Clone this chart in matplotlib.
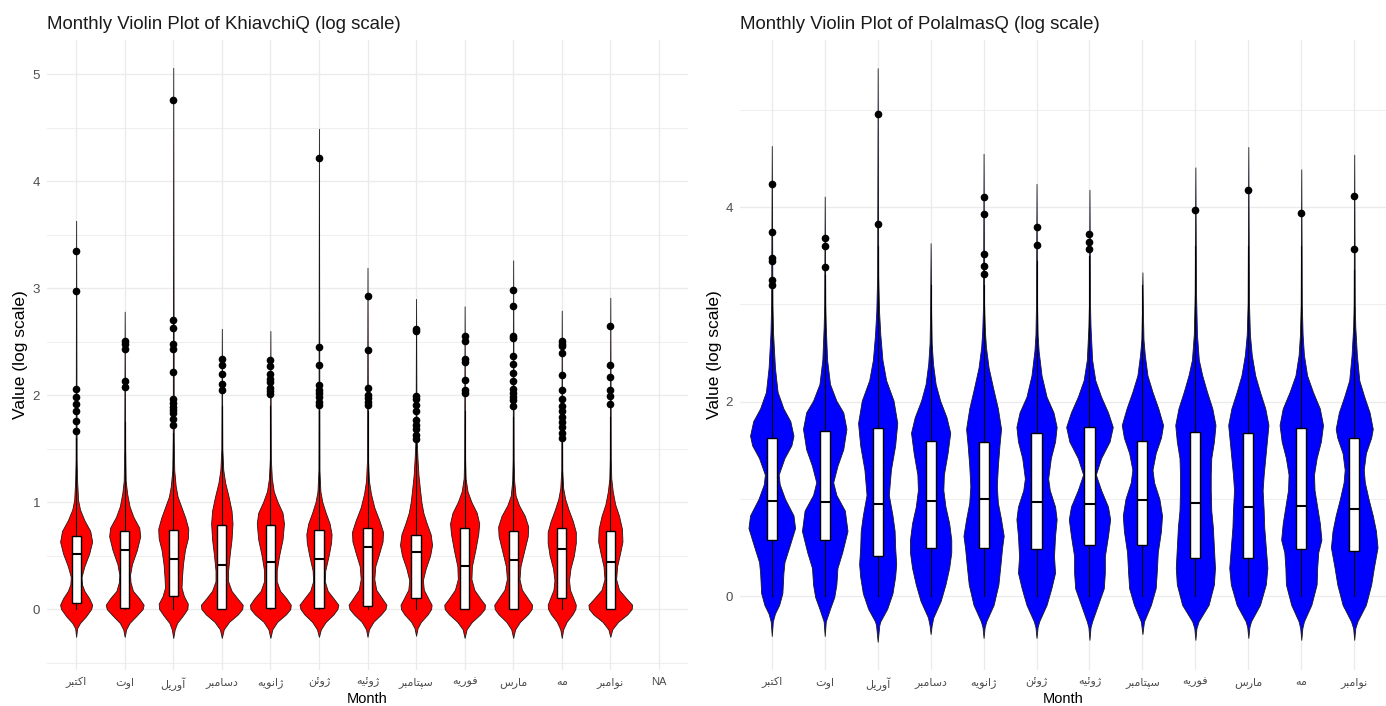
import matplotlib
matplotlib.use("Agg")
import matplotlib.pyplot as plt
from matplotlib.ticker import MultipleLocator

plt.rcParams['font.family'] = ['Liberation Sans', 'DejaVu Sans']

# month labels as they come out of R (alphabetical factor order)
months = ['اکتبر', 'اوت', 'آوریل', 'دسامبر', 'ژانویه', 'ژوئن', 'ژوئیه',
          'سپتامبر', 'فوریه', 'مارس', 'مه', 'نوامبر']

# ---- KhiavchiQ : violin outlines, (value, half width)
khiav_profiles = [
    [(-0.26, 0), (-0.18, 0.02), (-0.13, 0.08), (-0.07, 0.2), (0.0, 0.31), (0.04, 0.33), (0.1, 0.27),
     (0.17, 0.17), (0.23, 0.12), (0.3, 0.11), (0.4, 0.17), (0.52, 0.27), (0.63, 0.33), (0.73, 0.29),
     (0.83, 0.17), (0.93, 0.08), (1.02, 0.04), (1.2, 0.02), (1.4, 0.01), (3.63, 0)],
    [(-0.26, 0), (-0.19, 0.03), (-0.13, 0.1), (-0.06, 0.25), (0.0, 0.37), (0.04, 0.39), (0.1, 0.3),
     (0.17, 0.17), (0.25, 0.12), (0.32, 0.11), (0.42, 0.15), (0.55, 0.25), (0.68, 0.32), (0.76, 0.3),
     (0.86, 0.18), (0.96, 0.1), (1.08, 0.05), (1.2, 0.02), (1.5, 0.01), (2.78, 0)],
    [(-0.27, 0), (-0.19, 0.03), (-0.13, 0.08), (-0.06, 0.2), (0.0, 0.29), (0.05, 0.3), (0.12, 0.22),
     (0.2, 0.17), (0.3, 0.18), (0.42, 0.2), (0.55, 0.24), (0.66, 0.3), (0.75, 0.31), (0.85, 0.25),
     (0.95, 0.17), (1.05, 0.09), (1.15, 0.05), (1.3, 0.02), (1.6, 0.01), (5.06, 0)],
    [(-0.27, 0), (-0.19, 0.04), (-0.12, 0.15), (-0.05, 0.33), (0.0, 0.42), (0.04, 0.43), (0.1, 0.32),
     (0.17, 0.2), (0.26, 0.13), (0.36, 0.13), (0.5, 0.16), (0.65, 0.2), (0.8, 0.22), (0.92, 0.2),
     (1.05, 0.14), (1.18, 0.07), (1.3, 0.03), (1.5, 0.01), (2.62, 0)],
    [(-0.27, 0), (-0.19, 0.04), (-0.12, 0.14), (-0.05, 0.32), (0.0, 0.41), (0.04, 0.42), (0.1, 0.33),
     (0.17, 0.2), (0.26, 0.13), (0.36, 0.13), (0.5, 0.18), (0.65, 0.25), (0.8, 0.28), (0.9, 0.25),
     (1.0, 0.15), (1.1, 0.07), (1.22, 0.03), (1.4, 0.01), (2.6, 0)],
    [(-0.26, 0), (-0.19, 0.04), (-0.12, 0.14), (-0.05, 0.3), (0.0, 0.38), (0.04, 0.4), (0.1, 0.3),
     (0.17, 0.18), (0.26, 0.12), (0.36, 0.13), (0.5, 0.2), (0.62, 0.25), (0.7, 0.26), (0.8, 0.22),
     (0.9, 0.14), (1.0, 0.07), (1.1, 0.03), (1.3, 0.01), (4.49, 0)],
    [(-0.26, 0), (-0.19, 0.03), (-0.12, 0.12), (-0.05, 0.28), (0.0, 0.37), (0.04, 0.39), (0.1, 0.3),
     (0.18, 0.18), (0.28, 0.14), (0.4, 0.16), (0.52, 0.24), (0.63, 0.31), (0.72, 0.32), (0.82, 0.25),
     (0.95, 0.14), (1.08, 0.07), (1.2, 0.03), (1.4, 0.01), (3.19, 0)],
    [(-0.25, 0), (-0.18, 0.03), (-0.12, 0.1), (-0.05, 0.24), (0.0, 0.31), (0.04, 0.32), (0.1, 0.25),
     (0.18, 0.16), (0.27, 0.14), (0.38, 0.2), (0.5, 0.29), (0.6, 0.33), (0.7, 0.3), (0.8, 0.22),
     (0.9, 0.15), (1.0, 0.11), (1.12, 0.08), (1.25, 0.05), (1.4, 0.03), (1.6, 0.01), (2.9, 0)],
    [(-0.27, 0), (-0.19, 0.04), (-0.12, 0.15), (-0.05, 0.32), (0.0, 0.41), (0.04, 0.42), (0.1, 0.32),
     (0.18, 0.2), (0.28, 0.14), (0.4, 0.15), (0.55, 0.22), (0.7, 0.28), (0.8, 0.3), (0.9, 0.25),
     (1.0, 0.14), (1.1, 0.06), (1.22, 0.02), (1.4, 0.01), (2.83, 0)],
    [(-0.27, 0), (-0.19, 0.04), (-0.12, 0.14), (-0.05, 0.3), (0.0, 0.38), (0.04, 0.39), (0.1, 0.3),
     (0.18, 0.18), (0.28, 0.13), (0.4, 0.15), (0.55, 0.23), (0.68, 0.3), (0.77, 0.31), (0.87, 0.24),
     (0.97, 0.12), (1.06, 0.05), (1.2, 0.02), (1.4, 0.01), (3.26, 0)],
    [(-0.27, 0), (-0.19, 0.03), (-0.12, 0.1), (-0.05, 0.22), (0.0, 0.28), (0.04, 0.29), (0.1, 0.24),
     (0.18, 0.17), (0.27, 0.15), (0.38, 0.18), (0.5, 0.25), (0.62, 0.29), (0.72, 0.29), (0.82, 0.23),
     (0.93, 0.14), (1.03, 0.07), (1.13, 0.03), (1.3, 0.01), (2.79, 0)],
    [(-0.26, 0), (-0.19, 0.04), (-0.12, 0.16), (-0.05, 0.35), (0.0, 0.44), (0.04, 0.45), (0.1, 0.33),
     (0.18, 0.18), (0.28, 0.12), (0.4, 0.14), (0.52, 0.2), (0.63, 0.25), (0.75, 0.24), (0.87, 0.18),
     (0.98, 0.1), (1.1, 0.05), (1.22, 0.02), (1.4, 0.01), (2.91, 0)],
]
khiav_q1 = [0.056, 0.01, 0.12, 0.0, 0.01, 0.01, 0.03, 0.10, 0.0, 0.0, 0.10, 0.0]
khiav_med = [0.51, 0.55, 0.47, 0.41, 0.44, 0.47, 0.58, 0.53, 0.40, 0.46, 0.56, 0.44]
khiav_q3 = [0.68, 0.73, 0.74, 0.785, 0.785, 0.74, 0.76, 0.69, 0.76, 0.73, 0.76, 0.73]
khiav_lo = [0.0] * 12
khiav_hi = [1.6, 1.75, 1.65, 1.9, 1.9, 1.85, 1.85, 1.55, 1.85, 1.8, 1.55, 1.8]
khiav_out = [
    [1.66, 1.76, 1.85, 1.92, 1.98, 2.06, 2.97, 3.35],
    [2.08, 2.13, 2.43, 2.48, 2.51],
    [1.72, 1.78, 1.83, 1.86, 1.89, 1.93, 1.96, 2.22, 2.43, 2.48, 2.63, 2.70, 4.76],
    [2.05, 2.10, 2.20, 2.28, 2.34],
    [2.01, 2.04, 2.07, 2.12, 2.15, 2.20, 2.27, 2.33],
    [1.91, 1.94, 1.98, 2.02, 2.05, 2.09, 2.28, 2.45, 4.22],
    [1.91, 1.94, 1.97, 2.00, 2.07, 2.42, 2.93],
    [1.59, 1.63, 1.68, 1.72, 1.77, 1.85, 1.91, 1.96, 1.99, 2.60, 2.62],
    [2.02, 2.05, 2.14, 2.31, 2.34, 2.51, 2.55],
    [1.90, 1.95, 1.98, 2.02, 2.06, 2.13, 2.21, 2.29, 2.37, 2.53, 2.55, 2.83, 2.98],
    [1.60, 1.65, 1.70, 1.75, 1.80, 1.85, 1.90, 1.96, 2.05, 2.19, 2.39, 2.46, 2.48, 2.51],
    [1.92, 1.99, 2.05, 2.17, 2.28, 2.65],
]

# ---- PolalmasQ
polal_profiles = [
    [(-0.41, 0), (-0.26, 0.02), (-0.18, 0.06), (-0.09, 0.14), (0.03, 0.2), (0.24, 0.22), (0.35, 0.24),
     (0.54, 0.35), (0.7, 0.44), (0.83, 0.41), (1.0, 0.25), (1.15, 0.15), (1.25, 0.13), (1.42, 0.24),
     (1.55, 0.37), (1.65, 0.41), (1.8, 0.35), (1.93, 0.22), (2.1, 0.11), (2.35, 0.06), (2.7, 0.025),
     (3.0, 0.012), (4.63, 0)],
    [(-0.41, 0), (-0.26, 0.02), (-0.13, 0.1), (-0.01, 0.18), (0.12, 0.22), (0.29, 0.24), (0.45, 0.33),
     (0.67, 0.43), (0.88, 0.38), (1.04, 0.22), (1.17, 0.16), (1.34, 0.24), (1.51, 0.35), (1.72, 0.41),
     (1.89, 0.35), (2.01, 0.22), (2.18, 0.1), (2.43, 0.045), (2.77, 0.02), (3.0, 0.01), (4.11, 0)],
    [(-0.47, 0), (-0.3, 0.03), (-0.26, 0.05), (-0.13, 0.18), (0.03, 0.28), (0.2, 0.33), (0.33, 0.35),
     (0.5, 0.33), (0.67, 0.32), (0.83, 0.28), (1.04, 0.21), (1.3, 0.25), (1.55, 0.33), (1.78, 0.37),
     (2.01, 0.3), (2.22, 0.16), (2.43, 0.09), (2.69, 0.05), (2.94, 0.025), (3.3, 0.01), (5.43, 0)],
    [(-0.39, 0), (-0.3, 0.02), (-0.22, 0.05), (-0.05, 0.19), (0.12, 0.28), (0.29, 0.35), (0.45, 0.39),
     (0.58, 0.39), (0.75, 0.35), (0.92, 0.28), (1.09, 0.24), (1.25, 0.25), (1.47, 0.32), (1.68, 0.37),
     (1.84, 0.3), (2.01, 0.18), (2.18, 0.095), (2.39, 0.045), (2.6, 0.02), (2.9, 0.01), (3.63, 0)],
    [(-0.43, 0), (-0.32, 0.02), (-0.26, 0.05), (-0.09, 0.19), (0.12, 0.28), (0.33, 0.32), (0.5, 0.35),
     (0.62, 0.38), (0.79, 0.33), (0.96, 0.27), (1.13, 0.25), (1.34, 0.27), (1.55, 0.3), (1.72, 0.33),
     (1.93, 0.27), (2.14, 0.18), (2.35, 0.095), (2.56, 0.045), (2.73, 0.025), (3.0, 0.01), (4.55, 0)],
    [(-0.43, 0), (-0.32, 0.02), (-0.26, 0.05), (-0.09, 0.19), (0.08, 0.28), (0.24, 0.35), (0.41, 0.33),
     (0.62, 0.35), (0.79, 0.38), (0.92, 0.35), (1.09, 0.25), (1.21, 0.22), (1.42, 0.27), (1.59, 0.35),
     (1.74, 0.38), (1.89, 0.32), (2.05, 0.19), (2.27, 0.095), (2.52, 0.04), (2.69, 0.02), (3.0, 0.01),
     (4.24, 0)],
    [(-0.45, 0), (-0.32, 0.02), (-0.26, 0.05), (-0.09, 0.16), (0.08, 0.27), (0.24, 0.29), (0.41, 0.29),
     (0.62, 0.35), (0.79, 0.39), (0.92, 0.35), (1.09, 0.22), (1.25, 0.12), (1.42, 0.22), (1.59, 0.38),
     (1.74, 0.44), (1.89, 0.35), (2.05, 0.22), (2.22, 0.11), (2.43, 0.05), (2.77, 0.02), (3.0, 0.01),
     (4.18, 0)],
    [(-0.39, 0), (-0.3, 0.02), (-0.26, 0.03), (-0.09, 0.16), (0.08, 0.25), (0.24, 0.27), (0.45, 0.29),
     (0.67, 0.35), (0.83, 0.37), (1.0, 0.32), (1.17, 0.22), (1.3, 0.19), (1.47, 0.25), (1.63, 0.35),
     (1.76, 0.39), (1.93, 0.3), (2.1, 0.19), (2.27, 0.095), (2.48, 0.045), (2.64, 0.02), (2.9, 0.01),
     (3.33, 0)],
    [(-0.45, 0), (-0.33, 0.02), (-0.26, 0.06), (-0.09, 0.25), (0.12, 0.35), (0.29, 0.37), (0.5, 0.35),
     (0.71, 0.33), (0.88, 0.3), (1.09, 0.29), (1.25, 0.29), (1.42, 0.3), (1.59, 0.35), (1.76, 0.38),
     (1.93, 0.32), (2.1, 0.22), (2.27, 0.13), (2.43, 0.065), (2.69, 0.03), (3.11, 0.012), (4.41, 0)],
    [(-0.43, 0), (-0.32, 0.02), (-0.26, 0.05), (-0.09, 0.22), (0.12, 0.33), (0.29, 0.36), (0.5, 0.33),
     (0.71, 0.3), (0.88, 0.29), (1.09, 0.27), (1.25, 0.29), (1.42, 0.32), (1.59, 0.35), (1.76, 0.38),
     (1.93, 0.32), (2.1, 0.22), (2.27, 0.13), (2.48, 0.065), (2.69, 0.03), (3.02, 0.012), (4.62, 0)],
    [(-0.45, 0), (-0.33, 0.02), (-0.26, 0.05), (-0.09, 0.19), (0.12, 0.29), (0.29, 0.3), (0.45, 0.32),
     (0.58, 0.38), (0.75, 0.35), (0.92, 0.3), (1.09, 0.25), (1.25, 0.24), (1.42, 0.29), (1.59, 0.37),
     (1.76, 0.41), (1.93, 0.35), (2.1, 0.22), (2.27, 0.11), (2.48, 0.05), (2.69, 0.025), (3.0, 0.01),
     (4.39, 0)],
    [(-0.45, 0), (-0.33, 0.02), (-0.26, 0.06), (-0.09, 0.22), (0.12, 0.32), (0.29, 0.37), (0.5, 0.44),
     (0.67, 0.41), (0.83, 0.35), (1.0, 0.27), (1.17, 0.2), (1.3, 0.18), (1.47, 0.22), (1.63, 0.32),
     (1.72, 0.35), (1.89, 0.29), (2.05, 0.19), (2.22, 0.095), (2.48, 0.05), (2.77, 0.02), (3.0, 0.01),
     (4.54, 0)],
]
polal_q1 = [0.58, 0.58, 0.41, 0.50, 0.50, 0.48, 0.53, 0.53, 0.39, 0.39, 0.48, 0.46]
polal_med = [0.98, 0.97, 0.95, 0.98, 1.00, 0.97, 0.95, 0.99, 0.96, 0.92, 0.93, 0.90]
polal_q3 = [1.625, 1.70, 1.73, 1.60, 1.59, 1.68, 1.74, 1.60, 1.69, 1.68, 1.73, 1.625]
polal_lo = [0.0] * 12
polal_hi = [3.15, 3.3, 3.6, 3.2, 3.2, 3.45, 3.5, 3.2, 3.6, 3.6, 3.6, 3.35]
polal_out = [
    [3.20, 3.25, 3.45, 3.48, 3.75, 4.24],
    [3.39, 3.60, 3.68],
    [3.83, 4.96],
    [],
    [3.31, 3.40, 3.52, 3.93, 4.11],
    [3.61, 3.80],
    [3.57, 3.64, 3.72],
    [],
    [3.97],
    [4.18],
    [3.94],
    [3.57, 4.12],
]

# persian letters -> (isolated, final, initial, medial) presentation forms
FORMS = {
    'ا': ('\uFE8D', '\uFE8E'), 'آ': ('\uFE81', '\uFE82'),
    'د': ('\uFEA9', '\uFEAA'), 'ر': ('\uFEAD', '\uFEAE'),
    'ژ': ('\uFB8A', '\uFB8B'), 'و': ('\uFEED', '\uFEEE'),
    'ب': ('\uFE8F', '\uFE90', '\uFE91', '\uFE92'),
    'پ': ('\uFB56', '\uFB57', '\uFB58', '\uFB59'),
    'ت': ('\uFE95', '\uFE96', '\uFE97', '\uFE98'),
    'س': ('\uFEB1', '\uFEB2', '\uFEB3', '\uFEB4'),
    'ف': ('\uFED1', '\uFED2', '\uFED3', '\uFED4'),
    'ک': ('\uFB8E', '\uFB8F', '\uFB90', '\uFB91'),
    'ل': ('\uFEDD', '\uFEDE', '\uFEDF', '\uFEE0'),
    'م': ('\uFEE1', '\uFEE2', '\uFEE3', '\uFEE4'),
    'ن': ('\uFEE5', '\uFEE6', '\uFEE7', '\uFEE8'),
    'ه': ('\uFEE9', '\uFEEA', '\uFEEB', '\uFEEC'),
    'ئ': ('\uFE89', '\uFE8A', '\uFE8B', '\uFE8C'),
    'ی': ('\uFBFC', '\uFBFD', '\uFBFE', '\uFBFF'),
}


def shape(word):
    # matplotlib does no arabic shaping, so pick the joined forms by hand
    out = []
    for i, c in enumerate(word):
        f = FORMS[c]
        prev_j = i > 0 and len(FORMS[word[i - 1]]) == 4
        next_j = len(f) == 4 and i < len(word) - 1
        if prev_j and next_j:
            out.append(f[3])
        elif prev_j:
            out.append(f[1])
        elif next_j:
            out.append(f[2])
        else:
            out.append(f[0])
    return ''.join(reversed(out))


W, H = 1386, 706
fig = plt.figure(figsize=(W / 100, H / 100), dpi=100)
ax1 = fig.add_axes([47 / W, 1 - 670 / H, 641 / W, 630 / H])
ax2 = fig.add_axes([740 / W, 1 - 670 / H, 646 / W, 630 / H])


def panel(ax, profiles, q1, med, q3, lo, hi, out, color, ncat, title, ylim, major, minor):
    for i, prof in enumerate(profiles):
        ys = [p[0] for p in prof]
        ws = [p[1] for p in prof]
        x = i + 1
        ax.fill_betweenx(ys, [x - w for w in ws], [x + w for w in ws],
                         facecolor=color, edgecolor='#1a1a1a', linewidth=0.6, zorder=2)
    stats = [dict(med=med[i], q1=q1[i], q3=q3[i], whislo=lo[i], whishi=hi[i], fliers=out[i])
             for i in range(len(profiles))]
    ax.bxp(stats, positions=range(1, len(profiles) + 1), widths=0.19, patch_artist=True,
           showcaps=False, manage_ticks=False, zorder=3,
           boxprops=dict(facecolor='white', edgecolor='black', linewidth=1.0),
           medianprops=dict(color='black', linewidth=1.5),
           whiskerprops=dict(color='black', linewidth=0.8),
           flierprops=dict(marker='o', markerfacecolor='black', markeredgecolor='black',
                           markersize=4.5))
    labels = [shape(m) for m in months] + ['NA'] * (ncat - len(months))
    ax.set_xticks(range(1, ncat + 1))
    ax.set_xticklabels(labels, fontsize=8, color='#4D4D4D')
    ax.set_xlim(0.4, ncat + 0.6)
    ax.set_ylim(*ylim)
    ax.yaxis.set_major_locator(MultipleLocator(major))
    ax.yaxis.set_minor_locator(MultipleLocator(minor))
    ax.tick_params(axis='both', which='both', length=0)
    ax.tick_params(axis='y', labelsize=9.5, labelcolor='#4D4D4D', pad=5)
    ax.tick_params(axis='x', pad=5)
    ax.grid(True, which='major', color='#EBEBEB', linewidth=1.0)
    ax.grid(True, which='minor', axis='y', color='#EBEBEB', linewidth=0.6)
    ax.set_axisbelow(True)
    for s in ax.spines.values():
        s.set_visible(False)
    ax.set_title(title, loc='left', fontsize=13.4, color='#1a1a1a', pad=8)
    ax.set_ylabel('Value (log scale)', fontsize=12.5)
    ax.set_xlabel('Month', fontsize=10.5)
    ax.xaxis.set_label_coords(0.5, -0.035)


panel(ax1, khiav_profiles, khiav_q1, khiav_med, khiav_q3, khiav_lo, khiav_hi, khiav_out,
      '#FF0000', 13, 'Monthly Violin Plot of KhiavchiQ (log scale)', (-0.57, 5.32), 1, 0.5)
panel(ax2, polal_profiles, polal_q1, polal_med, polal_q3, polal_lo, polal_hi, polal_out,
      '#0000FF', 12, 'Monthly Violin Plot of PolalmasQ (log scale)', (-0.76, 5.72), 2, 1)
ax1.yaxis.set_label_coords(-0.03, 0.5)
ax2.yaxis.set_label_coords(-0.028, 0.5)

fig.savefig('out.png', dpi=100, facecolor='white')
